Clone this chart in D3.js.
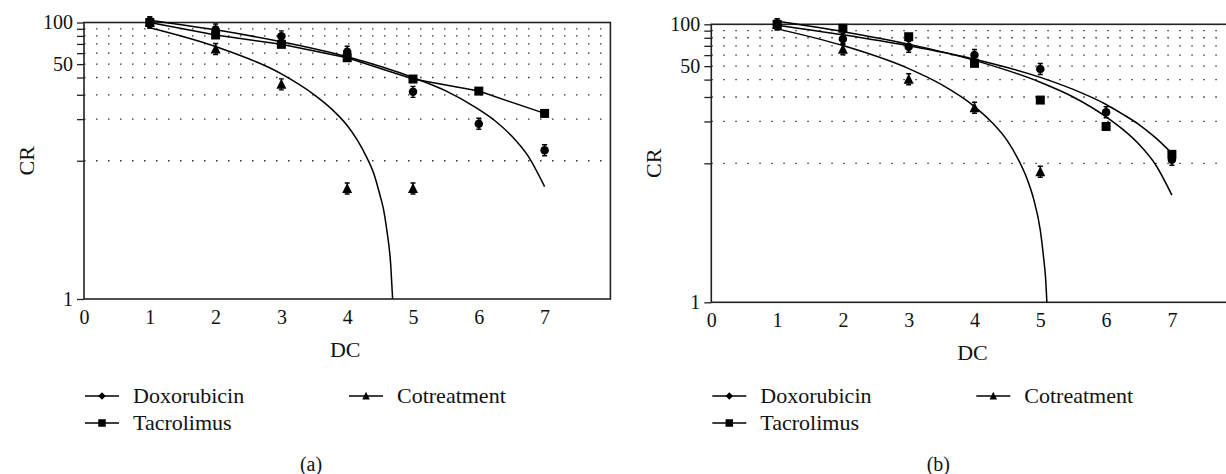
<!DOCTYPE html>
<html>
<head>
<meta charset="utf-8">
<script src="https://cdn.jsdelivr.net/npm/d3@7"></script>
<style>
  body { margin: 0; background: #fff; }
  svg { display: block; }
  text { font-family: "Liberation Serif", "DejaVu Serif", serif; fill: #111; }
</style>
</head>
<body>
<div id="chart"></div>
<script>
// measured points (dose count vs cell ratio, %)
const doses = [1, 2, 3, 4, 5, 6, 7];
const cotDoses = [1, 2, 3, 4, 5];

const doxA = [100, 89.0, 79.4, 61.4, 31.5, 18.5, 11.9];
const tacA = [100, 81.2, 69.5, 55.6, 39.0, 31.9, 22.0];
const cotA = [100, 64.3, 35.7, 6.3, 6.3];

const doxB = [100, 78.4, 69.0, 60.1, 47.7, 23.3, 10.6];
const tacB = [100, 93.6, 81.4, 52.4, 28.5, 18.4, 11.6];
const cotB = [100, 66.1, 40.2, 25.1, 8.7];

// trend lines: [dose, CR]
const doxFitA = [[1, 104], [2, 88.5], [3, 72.5], [4, 56.5], [5, 40], [5.5, 32], [6, 23.5],
    [6.25, 19.4], [6.5, 15.1], [6.75, 10.8], [7, 6.5]];
const cotFitA = [[1, 91.7], [2, 67], [3, 42.5], [3.5, 30], [3.75, 24], [4, 18], [4.15, 14.2],
    [4.3, 10.5], [4.4, 8.2], [4.5, 5.6], [4.55, 4.5], [4.6, 3.2], [4.66, 1.8], [4.69, 1]];
const doxFitB = [[1, 98.5], [2, 84], [3, 70], [4, 56], [5, 41.5], [5.5, 34], [6, 26.5],
    [6.25, 22.6], [6.5, 19], [6.75, 15.3], [7, 11.8]];
const tacFitB = [[1, 105], [2, 88.5], [3, 72], [4, 55], [5, 38.3], [5.5, 30], [6, 21.6],
    [6.25, 17.6], [6.5, 13.7], [6.75, 9.8], [7, 5.9]];
const cotFitB = [[1, 92.7], [2, 70.3], [3, 48], [3.5, 36.8], [4, 25.6], [4.25, 20], [4.5, 14.5],
    [4.65, 11], [4.8, 7.7], [4.9, 5.5], [5, 3.3], [5.05, 2.1], [5.08, 1.5], [5.1, 1]];

const gridValues = [10, 20, 30, 40, 50, 60, 70, 80, 90];
const yTickValues = [1, 10, 20, 30, 40, 50, 60, 70, 80, 90, 100];
const yTickLabels = [1, 50, 100];
const xTickValues = [0, 1, 2, 3, 4, 5, 6, 7];
const seriesNames = ["Doxorubicin", "Tacrolimus", "Cotreatment"];

const width = 1226, height = 474;
const svg = d3.select("#chart").append("svg")
    .attr("width", width)
    .attr("height", height);

const panels = [
    { label: "(a)", x0: 84, top: 22.5, bottom: 299,
      dox: doxA, tac: tacA, cot: cotA,
      doxFit: doxFitA, tacFit: doses.map((d, i) => [d, tacA[i]]), cotFit: cotFitA, tacStraight: true },
    { label: "(b)", x0: 711.3, top: 24.3, bottom: 302.3,
      dox: doxB, tac: tacB, cot: cotB,
      doxFit: doxFitB, tacFit: tacFitB, cotFit: cotFitB, tacStraight: false }
];

const unit = 65.8;

function drawMarker(g, type, cx, cy, size, errBar) {
    if (errBar) {
        g.append("path")
            .attr("d", `M${cx - 2.5},${cy - 5.5}H${cx + 2.5}M${cx},${cy - 5.5}V${cy + 5.5}M${cx - 2.5},${cy + 5.5}H${cx + 2.5}`)
            .attr("stroke", "#000").attr("stroke-width", 1.4).attr("fill", "none");
    }
    if (type === "circle") {
        g.append("circle").attr("cx", cx).attr("cy", cy).attr("r", size / 2).attr("fill", "#000");
    } else if (type === "square") {
        g.append("rect").attr("x", cx - size / 2).attr("y", cy - size / 2)
            .attr("width", size).attr("height", size).attr("fill", "#000");
    } else if (type === "triangle") {
        const h = size * 0.9;
        g.append("path")
            .attr("d", `M${cx},${cy - h / 2 - 1}L${cx + size / 2},${cy + h / 2}L${cx - size / 2},${cy + h / 2}Z`)
            .attr("fill", "#000");
    } else if (type === "diamond") {
        g.append("path")
            .attr("d", `M${cx},${cy - size / 2}L${cx + size / 2},${cy}L${cx},${cy + size / 2}L${cx - size / 2},${cy}Z`)
            .attr("fill", "#000");
    }
}

panels.forEach(p => {
    const x = d3.scaleLinear().domain([0, 8]).range([p.x0, p.x0 + 8 * unit]);
    const y = d3.scaleLog().domain([1, 100]).range([p.bottom, p.top]);
    const g = svg.append("g");

    // dotted grid
    g.selectAll(".grid")
        .data(gridValues)
        .enter().append("line")
        .attr("x1", x(0)).attr("x2", x(8))
        .attr("y1", d => y(d)).attr("y2", d => y(d))
        .attr("stroke", "#333")
        .attr("stroke-width", 1.3)
        .attr("stroke-dasharray", "1.5 10.5");

    // axes
    const yAxis = g.append("g")
        .attr("transform", `translate(${x(0)},0)`)
        .call(d3.axisLeft(y)
            .tickValues(yTickValues)
            .tickSize(7)
            .tickPadding(4)
            .tickFormat(d => yTickLabels.includes(d) ? d : ""));
    yAxis.select(".domain").remove();
    yAxis.selectAll("line").attr("stroke", "#222").attr("stroke-width", 1.3);
    yAxis.selectAll("text")
        .attr("font-family", "Liberation Serif")
        .attr("font-size", 20)
        .attr("fill", "#111");

    const xAxis = g.append("g")
        .attr("transform", `translate(0,${y(1)})`)
        .call(d3.axisBottom(x).tickValues(xTickValues).tickSize(0).tickPadding(11));
    xAxis.select(".domain").remove();
    xAxis.selectAll("text")
        .attr("font-family", "Liberation Serif")
        .attr("font-size", 20)
        .attr("fill", "#111");

    // frame
    g.append("rect")
        .attr("x", x(0)).attr("y", y(100))
        .attr("width", x(8) - x(0)).attr("height", y(1) - y(100))
        .attr("fill", "none")
        .attr("stroke", "#222")
        .attr("stroke-width", 1.6);

    // axis titles
    g.append("text")
        .attr("transform", `translate(${x(0) - 58},${(y(1) + y(100)) / 2}) rotate(-90)`)
        .attr("text-anchor", "middle")
        .attr("dy", "0.35em")
        .attr("font-size", 22)
        .text("CR");
    g.append("text")
        .attr("x", x(4) - 2).attr("y", y(1) + 50)
        .attr("text-anchor", "middle")
        .attr("dy", "0.35em")
        .attr("font-size", 22)
        .text("DC");

    // trend lines
    const smooth = d3.line()
        .x(d => x(d[0]))
        .y(d => y(d[1]))
        .curve(d3.curveMonotoneX);
    const straight = d3.line()
        .x(d => x(d[0]))
        .y(d => y(d[1]));
    [p.doxFit, p.cotFit].forEach(f => {
        g.append("path").attr("d", smooth(f))
            .attr("fill", "none").attr("stroke", "#000").attr("stroke-width", 1.5);
    });
    g.append("path").attr("d", (p.tacStraight ? straight : smooth)(p.tacFit))
        .attr("fill", "none").attr("stroke", "#000").attr("stroke-width", 1.5);

    // markers
    doses.forEach((d, i) => drawMarker(g, "circle", x(d), y(p.dox[i]), 8.5, true));
    cotDoses.forEach((d, i) => drawMarker(g, "triangle", x(d), y(p.cot[i]), 10, true));
    doses.forEach((d, i) => drawMarker(g, "square", x(d), y(p.tac[i]), 9, false));

    // legend
    const legend = [
        { name: seriesNames[0], type: "diamond", dx: 1, y: 396 },
        { name: seriesNames[1], type: "square", dx: 1, y: 423 },
        { name: seriesNames[2], type: "triangle", dx: 265, y: 396 }
    ];
    legend.forEach(l => {
        const lx = x(0) + l.dx;
        g.append("line")
            .attr("x1", lx).attr("x2", lx + 34)
            .attr("y1", l.y).attr("y2", l.y)
            .attr("stroke", "#000").attr("stroke-width", 1.5);
        drawMarker(g, l.type, lx + 17, l.y, 7.5, false);
        g.append("text")
            .attr("x", lx + 48).attr("y", l.y)
            .attr("dy", "0.33em")
            .attr("font-size", 22)
            .text(l.name);
    });

    g.append("text")
        .attr("x", x(0) + 227).attr("y", 464)
        .attr("text-anchor", "middle")
        .attr("dy", "0.35em")
        .attr("font-size", 20)
        .text(p.label);
});
</script>
</body>
</html>
